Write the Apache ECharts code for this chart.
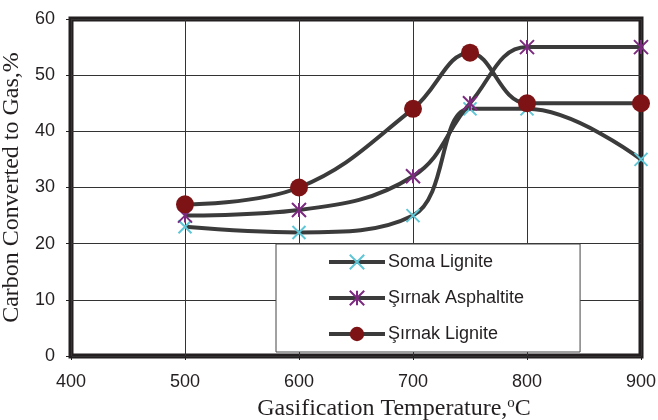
<!DOCTYPE html>
<html>
<head>
<meta charset="utf-8">
<script src="https://cdn.jsdelivr.net/npm/echarts@6/dist/echarts.min.js"></script>
<style>
  html, body { margin: 0; padding: 0; background: #fff; }
  #chart { width: 658px; height: 420px; }
</style>
</head>
<body>
<div id="chart"></div>
<script>
// temperatures (°C)
var temps = [500, 600, 700, 750, 800, 900];
var somaLignite = [23, 22, 25, 44, 44, 35];
var sirnakAsphaltite = [25, 26, 32, 45, 55, 55];
var sirnakLignite = [27, 30, 44, 54, 45, 45];
var seriesNames = ['Soma Lignite', 'Şırnak Asphaltite', 'Şırnak Lignite'];

function pairs(ys) {
    return temps.map(function (t, i) { return [t, ys[i]] })
}

var lineColor = '#3b3b3b'
var textColor = '#231f20'
var chart = echarts.init(document.getElementById('chart'))

chart.setOption({
    animation: false,
    grid: {
        left: 71, top: 19, right: 17, bottom: 64,
        outerBoundsMode: 'none',
        show: true,
        borderWidth: 5,
        borderColor: '#231f20',
        backgroundColor: 'transparent'
    },
    legend: {
        orient: 'vertical',
        left: 276,
        top: 244,
        data: seriesNames,
        itemWidth: 56,
        itemHeight: 18,
        itemGap: 18,
        padding: [9, 56, 9, 51],
        backgroundColor: '#fff',
        borderColor: '#444',
        borderWidth: 1,
        borderRadius: 0,
        lineStyle: { width: 4, color: lineColor },
        textStyle: { fontFamily: 'Liberation Sans', fontSize: 18, color: textColor, padding: [0, 0, 0, -2] }
    },
    xAxis: {
        type: 'value',
        min: 400, max: 900, interval: 100,
        name: 'Gasification Temperature,{sup|o}C',
        nameLocation: 'middle',
        nameGap: 40,
        nameTextStyle: {
            fontFamily: 'Liberation Serif', fontSize: 24, color: textColor,
            padding: [0, 0, 0, 76], // title sits right of the plot centre
            rich: { sup: { fontFamily: 'Liberation Serif', fontSize: 15, verticalAlign: 'top', padding: [0, 0, 10, 0], color: textColor } }
        },
        axisLine: { show: false },
        axisTick: { show: true, length: 4, lineStyle: { color: textColor } },
        axisLabel: { fontFamily: 'Liberation Sans', fontSize: 18, color: textColor, margin: 17 },
        splitLine: { show: true, lineStyle: { color: '#333', width: 1 } }
    },
    yAxis: {
        type: 'value',
        min: 0, max: 60, interval: 10,
        name: 'Carbon Converted to Gas,%',
        nameLocation: 'middle',
        nameGap: 38,
        nameTextStyle: { fontFamily: 'Liberation Serif', fontSize: 24, color: textColor },
        axisLine: { show: false },
        axisTick: { show: true, length: 5, lineStyle: { color: textColor } },
        axisLabel: { fontFamily: 'Liberation Sans', fontSize: 18, color: textColor, margin: 16 },
        splitLine: { show: true, lineStyle: { color: '#333', width: 1 } }
    },
    series: [
        {
            name: seriesNames[0],
            type: 'line',
            smooth: 0.4,
            data: pairs(somaLignite),
            symbol: 'path://M0,0L10,10M10,0L0,10',
            symbolSize: 13,
            itemStyle: { color: '#5ec6d6', borderColor: '#5ec6d6', borderWidth: 2 },
            lineStyle: { color: lineColor, width: 4 },
            z: 3
        },
        {
            name: seriesNames[1],
            type: 'line',
            smooth: 0.4,
            data: pairs(sirnakAsphaltite),
            symbol: 'path://M0,0L10,10M10,0L0,10M5,0L5,10',
            symbolSize: 14,
            itemStyle: { color: '#7b2a7f', borderColor: '#7b2a7f', borderWidth: 2 },
            lineStyle: { color: lineColor, width: 4 },
            z: 4
        },
        {
            name: seriesNames[2],
            type: 'line',
            smooth: 0.4,
            data: pairs(sirnakLignite),
            symbol: 'circle',
            symbolSize: 18,
            itemStyle: { color: '#7d1315', borderWidth: 0 },
            lineStyle: { color: lineColor, width: 4 },
            z: 5
        }
    ]
})
</script>
</body>
</html>
